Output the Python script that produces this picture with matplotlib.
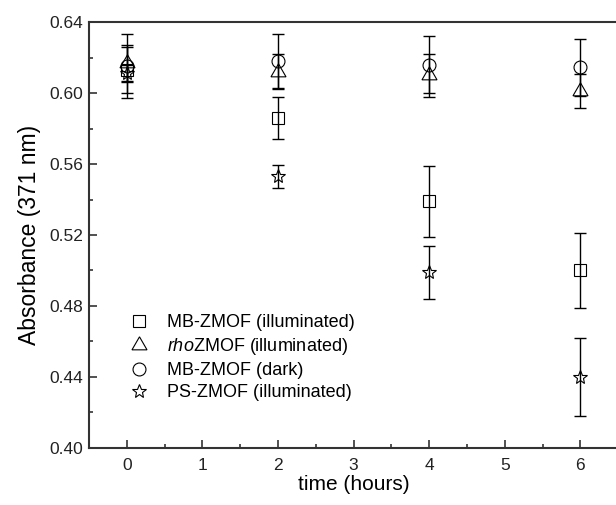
import numpy as np
import matplotlib.pyplot as plt
from matplotlib.lines import Line2D

plt.rcParams['font.family'] = ['Liberation Sans', 'DejaVu Sans']
plt.rcParams['mathtext.fontset'] = 'custom'
plt.rcParams['mathtext.rm'] = 'Liberation Sans'
plt.rcParams['mathtext.it'] = 'Liberation Sans:italic'

time_h = [0, 2, 4, 6]

mb_illum = [0.613, 0.586, 0.539, 0.500]
mb_illum_err = [0.013, 0.012, 0.020, 0.021]

rho_illum = [0.617, 0.612, 0.610, 0.601]
rho_illum_err = [0.010, 0.010, 0.012, 0.0095]

mb_dark = [0.615, 0.618, 0.616, 0.6145]
mb_dark_err = [0.018, 0.015, 0.016, 0.016]

ps_illum = [0.611, 0.553, 0.499, 0.440]
ps_illum_err = [0.005, 0.0065, 0.015, 0.022]

labels = ["MB-ZMOF (illuminated)", r"$\it{rho}$ZMOF (illuminated)",
          "MB-ZMOF (dark)", "PS-ZMOF (illuminated)"]

fig = plt.figure(figsize=(6.16, 5.05), dpi=100)
ax = fig.add_axes([0.1445, 0.1129, 0.859, 0.8435])

series = [
    (mb_illum, mb_illum_err, 's', 8.0),
    (rho_illum, rho_illum_err, (3, 0, 0), 12.5),
    (mb_dark, mb_dark_err, 'o', 9.3),
    (ps_illum, ps_illum_err, '*', 10.5),
]

handles = []
for vals, errs, mk, ms in series:
    ax.errorbar(time_h, vals, yerr=errs, fmt='none', ecolor='black',
                elinewidth=1.0, capsize=4.5, capthick=1.0)
    ax.plot(time_h, vals, linestyle='none', marker=mk, ms=ms, mfc='none',
            mec='black', mew=0.8)
    handles.append(Line2D([], [], marker=mk, ms=ms, mfc='none', mec='black',
                          mew=0.8, linestyle='none'))

ax.set_xlim(-0.5, 6.5)
ax.set_ylim(0.40, 0.64)
ax.set_xticks(range(0, 7))
ax.set_xticks(np.arange(-0.5, 6.6, 0.5), minor=True)
ax.set_yticks(np.arange(0.40, 0.641, 0.04))
ax.set_yticks(np.arange(0.40, 0.641, 0.02), minor=True)
ax.yaxis.set_major_formatter(plt.FormatStrFormatter('%.2f'))

ax.tick_params(which='both', direction='in', top=False, right=False,
               labelsize=12.5, colors='#222222', width=1.1)
ax.tick_params(which='major', length=6)
ax.tick_params(which='minor', length=3)
ax.tick_params(axis='x', which='major', pad=7)
ax.tick_params(axis='y', which='major', pad=4.5)
for sp in ax.spines.values():
    sp.set_linewidth(1.5)
    sp.set_color('#333333')

ax.set_xlabel("time (hours)", fontsize=15, labelpad=2)
ax.set_ylabel("Absorbance (371 nm)", fontsize=16.5, labelpad=6)

ax.legend(handles, labels, loc='upper left', bbox_to_anchor=(0.0775, 0.3146),
          frameon=False, fontsize=13, handlelength=1.0, handletextpad=1.05,
          labelspacing=0.28, borderpad=0, borderaxespad=0)

plt.savefig("out.png", dpi=100)
